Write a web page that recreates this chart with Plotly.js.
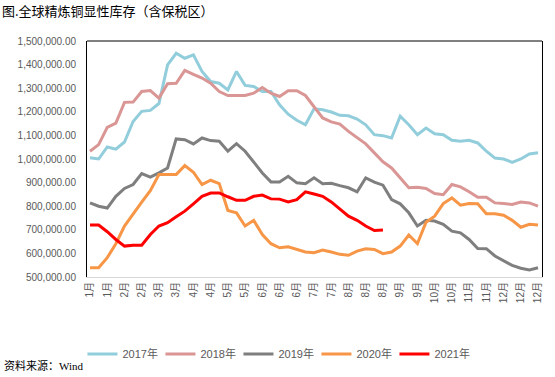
<!DOCTYPE html>
<html>
<head>
<meta charset="utf-8">
<script src="https://cdn.plot.ly/plotly-3.0.1.min.js"></script>
<style>
html,body{margin:0;padding:0;background:#fff;}
#chart{width:555px;height:377px;}
</style>
</head>
<body>
<div id="chart"></div>
<script>
// Weekly inventory (tonnes), one value per week
const y2017 = [1005,1000,1051,1042,1072,1159,1202,1206,1235,1399,1448,1427,1441,1371,1328,1321,1293,1371,
  1312,1307,1286,1286,1230,1190,1164,1145,1213,1209,1199,1185,1183,1169,1145,1103,1099,
  1089,1181,1145,1103,1131,1107,1103,1079,1075,1079,1068,1033,1004,1000,986,1000,1021,1026].map(v=>v*1000);
const y2018 = [1033,1061,1134,1152,1240,1241,1286,1290,1258,1319,1321,1375,1359,1343,1321,1286,1269,1269,
  1269,1279,1303,1279,1265,1289,1289,1269,1220,1174,1157,1148,1117,1089,1064,1026,988,
  962,920,878,880,875,854,849,892,882,861,838,838,814,811,807,818,814,800].map(v=>v*1000);
const y2019 = [814,800,792,842,875,892,938,923,941,962,1085,1082,1064,1089,1078,1075,1033,1065,
  1033,988,941,903,903,927,899,895,920,895,897,887,878,861,920,902,889,
  828,810,772,716,740,737,723,694,687,659,621,620,589,568,549,537,530,539].map(v=>v*1000);
const y2020 = [539,539,582,641,716,769,817,866,934,934,934,972,944,892,910,896,782,772,
  716,740,680,641,624,628,617,606,603,614,606,596,592,610,620,617,599,
  606,631,678,642,732,758,811,835,804,811,810,768,768,762,740,711,723,720].map(v=>v*1000);
const y2021 = [720,720,692,659,631,635,635,680,716,730,755,779,810,842,856,856,840,825,
  825,842,847,831,830,818,828,861,852,842,818,790,758,740,716,697,699].map(v=>v*1000);

const seriesNames = ["2017年","2018年","2019年","2020年","2021年"];
const seriesData = [y2017, y2018, y2019, y2020, y2021];
const seriesColors = ["#92CDDC","#D99694","#7F7F7F","#F79646","#FF0000"];

const tickLabels = ["1月","1月","2月","2月","3月","3月","4月","4月","5月","5月","6月","6月","6月",
  "7月","7月","8月","8月","8月","9月","9月","10月","10月","11月","11月","12月","12月","12月"];

const traces = seriesData.map((ys, k) => ({
  type: "scatter",
  mode: "lines",
  name: seriesNames[k],
  x: ys.map((_, i) => i),
  y: ys,
  line: {color: seriesColors[k], width: 3},
  hoverinfo: "skip"
}));

const layout = {
  width: 555,
  height: 377,
  margin: {l: 87, r: 13, t: 41, b: 100, autoexpand: false},
  paper_bgcolor: "#fff",
  plot_bgcolor: "#fff",
  font: {family: "Liberation Sans, Arial, Noto Sans CJK SC, sans-serif", color: "#595959"},
  showlegend: true,
  legend: {
    orientation: "h",
    x: -0.01, xanchor: "left",
    y: -0.326, yanchor: "middle",
    font: {size: 11, color: "#595959", family: "Liberation Sans, Noto Sans CJK SC, sans-serif"},
    entrywidth: 33, entrywidthmode: "pixels",
    itemwidth: 30,
    tracegroupgap: 0
  },
  xaxis: {
    range: [-0.35, 52.46],
    tickvals: tickLabels.map((_, i) => i * 2),
    ticktext: tickLabels,
    tickangle: -90,
    tickfont: {size: 10, color: "#595959", family: "Liberation Sans, Noto Sans CJK SC, sans-serif"},
    showgrid: false,
    zeroline: false,
    showline: true,
    linecolor: "#D9D9D9",
    linewidth: 1,
    ticks: ""
  },
  yaxis: {
    range: [500000, 1500000],
    dtick: 100000,
    tick0: 500000,
    tickformat: ",.2f",
    tickfont: {size: 10, color: "#595959", family: "Liberation Sans, Arial, sans-serif"},
    showgrid: false,
    zeroline: false,
    showline: true,
    mirror: true,
    linecolor: "#000",
    linewidth: 1,
    ticks: "",
    ticklabelstandoff: 8
  },
  shapes: [
    {type: "line", xref: "paper", yref: "paper", x0: 0, x1: 1, y0: 1, y1: 1,
     line: {color: "#000", width: 1}}
  ],
  annotations: [
    {text: "图.全球精炼铜显性库存（含保税区）", xref: "paper", yref: "paper",
     x: -87/455, y: 1 + 30/236, xanchor: "left", yanchor: "middle", showarrow: false,
     font: {size: 13, color: "#000", family: "Noto Sans CJK SC, sans-serif"}},
    {text: "资料来源：Wind", xref: "paper", yref: "paper",
     x: -85/455, y: -88/236, xanchor: "left", yanchor: "middle", showarrow: false,
     font: {size: 11, color: "#000", family: "Liberation Serif, Noto Sans CJK SC, serif"}}
  ]
};

Plotly.newPlot("chart", traces, layout, {displayModeBar: false, staticPlot: true});
</script>
</body>
</html>
